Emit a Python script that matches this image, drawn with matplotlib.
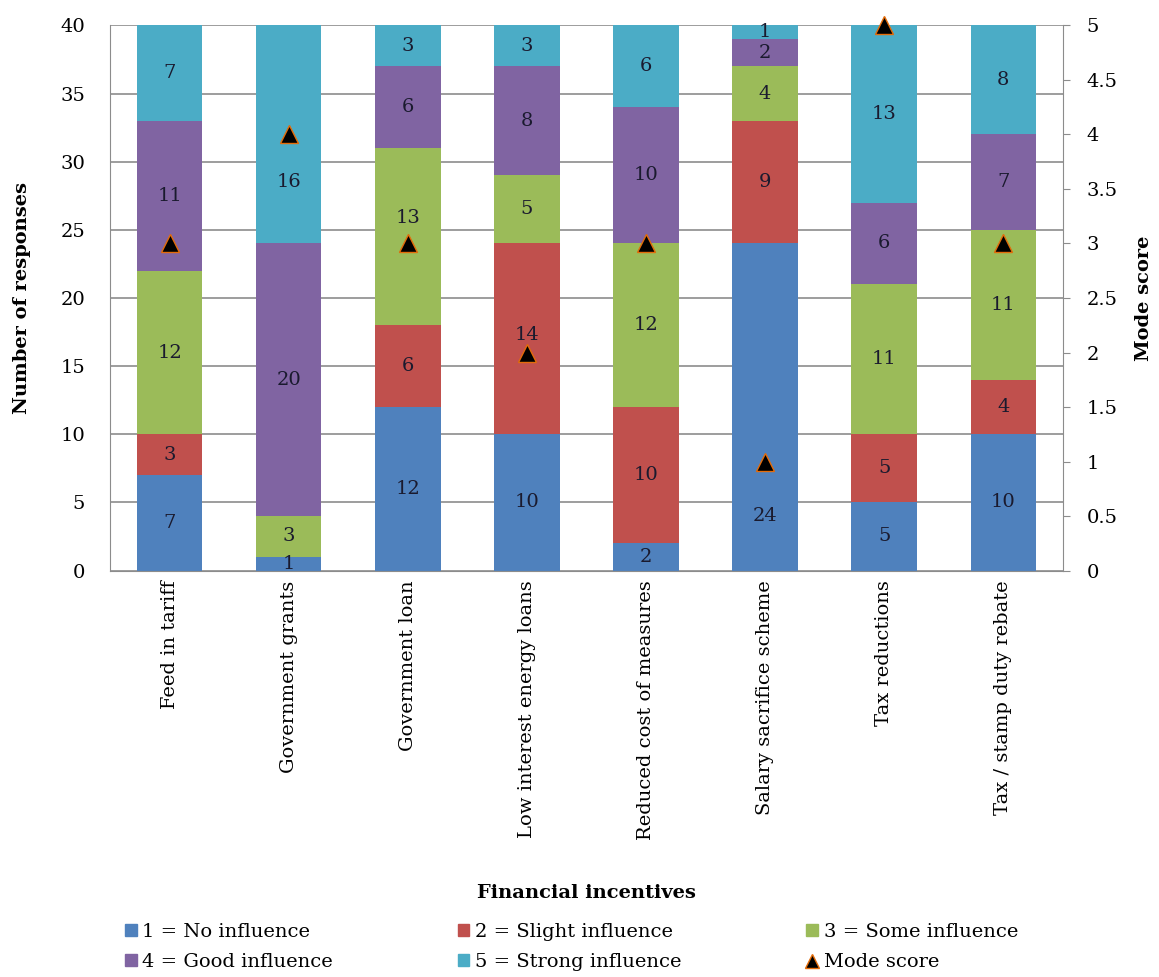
import matplotlib
matplotlib.use("Agg")
import matplotlib.pyplot as plt
import numpy as np
from matplotlib.lines import Line2D
from matplotlib.patches import Patch

plt.rcParams['font.family'] = ['DejaVu Serif']

categories = ["Feed in tariff", "Government grants", "Government loan",
              "Low interest energy loans", "Reduced cost of measures",
              "Salary sacrifice scheme", "Tax reductions", "Tax / stamp duty rebate"]
no_influence = [7, 1, 12, 10, 2, 24, 5, 10]
slight_influence = [3, 0, 6, 14, 10, 9, 5, 4]
some_influence = [12, 3, 13, 5, 12, 4, 11, 11]
good_influence = [11, 20, 6, 8, 10, 2, 6, 7]
strong_influence = [7, 16, 3, 3, 6, 1, 13, 8]
mode_score = [3, 4, 3, 2, 3, 1, 5, 3]

series = [no_influence, slight_influence, some_influence, good_influence, strong_influence]
names = ["1 = No influence", "2 = Slight influence", "3 = Some influence",
         "4 = Good influence", "5 = Strong influence"]
colors = ["#4F81BD", "#C0504D", "#9BBB59", "#8064A2", "#4BACC6"]

# label nudges (in data units) where the label would collide with a mode marker
label_nudge = {(1, 4): -3.5, (2, 2): 1.4, (5, 0): -8.0, (3, 1): 0.3}

fig = plt.figure(figsize=(11.59, 9.77), dpi=100)
ax = fig.add_axes([0.095, 0.416, 0.822, 0.558])
x = np.arange(len(categories))
bottom = np.zeros(len(categories))
fs = 14
for si, (vals, c) in enumerate(zip(series, colors)):
    vals = np.array(vals, dtype=float)
    ax.bar(x, vals, 0.55, bottom=bottom, color=c, zorder=2)
    for xi, v, b in zip(x, vals, bottom):
        if v > 0:
            yy = b + v / 2 + label_nudge.get((xi, si), 0.0)
            ax.text(xi, yy, f"{int(v)}", ha='center', va='center',
                    fontsize=fs, color='#1a1a2e', zorder=4)
    bottom += vals

ax.set_xlim(-0.5, len(categories) - 0.5)
ax.set_ylim(0, 40)
ax.set_yticks(np.arange(0, 41, 5))
ax.yaxis.grid(True, color='#8c8c8c', linewidth=1.2, zorder=0)
ax.set_axisbelow(True)
ax.set_xticks(x)
ax.set_xticklabels(categories, rotation=90, fontsize=fs)
ax.tick_params(axis='y', labelsize=fs, length=0, pad=18)
ax.tick_params(axis='x', length=0, pad=7)
for s in ['top', 'right']:
    ax.spines[s].set_visible(False)
for s in ['left', 'bottom']:
    ax.spines[s].set_color('#8c8c8c')
ax.set_ylabel("Number of responses", fontsize=fs, fontweight='bold')
ax.yaxis.set_label_coords(-0.083, 0.5)
ax.set_xlabel("Financial incentives", fontsize=fs, fontweight='bold')
ax.xaxis.set_label_coords(0.5, -0.575)

ax2 = ax.twinx()
ax2.set_ylim(0, 5)
ax2.set_yticks(np.arange(0, 5.01, 0.5))
ax2.set_yticklabels([f"{v:g}" for v in np.arange(0, 5.01, 0.5)])
ax2.tick_params(axis='y', labelsize=fs, length=5, color='#8c8c8c', pad=12)
for s in ['top', 'left', 'bottom']:
    ax2.spines[s].set_visible(False)
ax2.spines['right'].set_color('#8c8c8c')
ax2.plot(x, mode_score, linestyle='none', marker='^', markersize=13,
         markerfacecolor='black', markeredgecolor='#E46C0A', markeredgewidth=1.0,
         zorder=5, clip_on=False)
ax2.set_ylabel("Mode score", fontsize=fs, fontweight='bold')
ax2.yaxis.set_label_coords(1.076, 0.5)

handles = [Patch(color=c) for c in colors]
mode_h = Line2D([], [], linestyle='none', marker='^', markersize=10,
                markerfacecolor='black', markeredgecolor='#E46C0A')
order_h = [handles[0], handles[3], handles[1], handles[4], handles[2], mode_h]
order_l = [names[0], names[3], names[1], names[4], names[2], "Mode score"]
fig.legend(order_h, order_l, loc='upper left', bbox_to_anchor=(125 / 1159, 1 - 923 / 977),
           ncol=3, frameon=False, fontsize=fs, handlelength=0.6, handleheight=0.6,
           handletextpad=0.3, columnspacing=6.4, labelspacing=0.62, borderpad=0,
           borderaxespad=0)

fig.savefig("out.png", dpi=100)
